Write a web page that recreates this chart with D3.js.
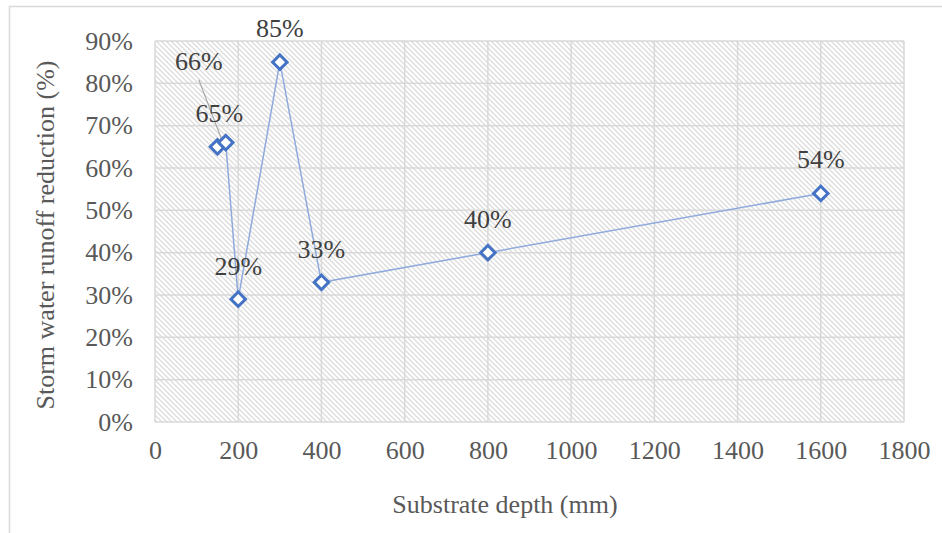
<!DOCTYPE html>
<html><head><meta charset="utf-8">
<script src="https://cdn.jsdelivr.net/npm/d3@7"></script>
<style>body{margin:0;background:#fff} text{font-family:"Liberation Serif","Times New Roman",serif !important;}</style>
</head><body>
<script>
const depths = [150, 170, 200, 300, 400, 800, 1600];
const reductions = [0.65, 0.66, 0.29, 0.85, 0.33, 0.40, 0.54];
const labels = ["65%", "66%", "29%", "85%", "33%", "40%", "54%"];
const xTicks = [0,200,400,600,800,1000,1200,1400,1600,1800];
const yTicks = [0,0.1,0.2,0.3,0.4,0.5,0.6,0.7,0.8,0.9];
// label offsets (px) relative to point
const labelDx = [2, -27, 0, 0, 0, 0, 0];
const labelDy = [-25, -73, -24, -25, -24, -25, -25];

const W=942,H=533;
const svg=d3.select("body").append("svg").attr("width",W).attr("height",H);
const defs=svg.append("defs");
const pat=defs.append("pattern").attr("id","hatch").attr("patternUnits","userSpaceOnUse")
  .attr("width",5).attr("height",5);
pat.append("rect").attr("width",5).attr("height",5).attr("fill","#fff");
pat.append("path").attr("d","M-1,-1 L6,6 M-6,-1 L1,6 M4,-1 L11,6").attr("stroke","#dcdcdc").attr("stroke-width",1.3);

svg.append("rect").attr("x",9.5).attr("y",6.5).attr("width",W).attr("height",H)
  .attr("fill","none").attr("stroke","#d9d9d9").attr("stroke-width",1.5);

const x=d3.scaleLinear().domain([0,1800]).range([155,904]);
const y=d3.scaleLinear().domain([0,0.9]).range([422,41]);

svg.append("rect").attr("x",x(0)).attr("y",y(0.9)).attr("width",x(1800)-x(0)).attr("height",y(0)-y(0.9))
  .attr("fill","url(#hatch)");

const font="Liberation Serif";
// gridlines
svg.append("g").selectAll("line").data(yTicks).join("line")
  .attr("x1",x(0)).attr("x2",x(1800)).attr("y1",d=>y(d)).attr("y2",d=>y(d))
  .attr("stroke","#d9d9d9").attr("stroke-width",1.5);
svg.append("g").selectAll("line").data(xTicks).join("line")
  .attr("y1",y(0)).attr("y2",y(0.9)).attr("x1",d=>x(d)).attr("x2",d=>x(d))
  .attr("stroke","#d9d9d9").attr("stroke-width",1.5);

// axes (labels only)
const yAxis=svg.append("g").attr("transform",`translate(${x(0)},0)`)
  .call(d3.axisLeft(y).tickValues(yTicks).tickFormat(d3.format(".0%")).tickSize(0).tickPadding(22));
yAxis.select(".domain").remove();
yAxis.attr("font-family",font).attr("font-size",26);
yAxis.selectAll("text").attr("fill","#595959");
const xAxis=svg.append("g").attr("transform",`translate(0,${y(0)})`)
  .call(d3.axisBottom(x).tickValues(xTicks).tickFormat(d3.format("d")).tickSize(0).tickPadding(19));
xAxis.select(".domain").remove();
xAxis.attr("font-family",font).attr("font-size",26);
xAxis.selectAll("text").attr("fill","#595959");

svg.append("text").attr("x",505).attr("y",513).attr("text-anchor","middle")
  .attr("font-size",26).attr("fill","#595959").text("Substrate depth (mm)");
svg.append("text").attr("transform","translate(54,235) rotate(-90)").attr("text-anchor","middle")
  .attr("font-size",26).attr("fill","#595959").text("Storm water runoff reduction (%)");

const pts=depths.map((d,i)=>({x:d,y:reductions[i],l:labels[i],dx:labelDx[i],dy:labelDy[i]}));
const line=d3.line().x(d=>x(d.x)).y(d=>y(d.y));
svg.append("path").datum(pts).attr("d",line).attr("fill","none").attr("stroke","#8faadc").attr("stroke-width",1.5);

// leader line for 66%
const p66=pts[1];
svg.append("line").attr("x1",x(p66.x)-27).attr("y1",y(p66.y)-63).attr("x2",x(p66.x)-4).attr("y2",y(p66.y)-3)
  .attr("stroke","#a6a6a6").attr("stroke-width",1.2);

svg.append("g").selectAll("path").data(pts).join("path")
  .attr("d",d3.symbol(d3.symbolSquare,105))
  .attr("transform",d=>`translate(${x(d.x)},${y(d.y)}) rotate(45)`)
  .attr("fill","#fff").attr("stroke","#4472c4").attr("stroke-width",3);

svg.append("g").selectAll("text").data(pts).join("text")
  .attr("x",d=>x(d.x)+d.dx).attr("y",d=>y(d.y)+d.dy).attr("text-anchor","middle")
  .attr("font-size",26).attr("fill","#404040").text(d=>d.l);
</script>
</body></html>
